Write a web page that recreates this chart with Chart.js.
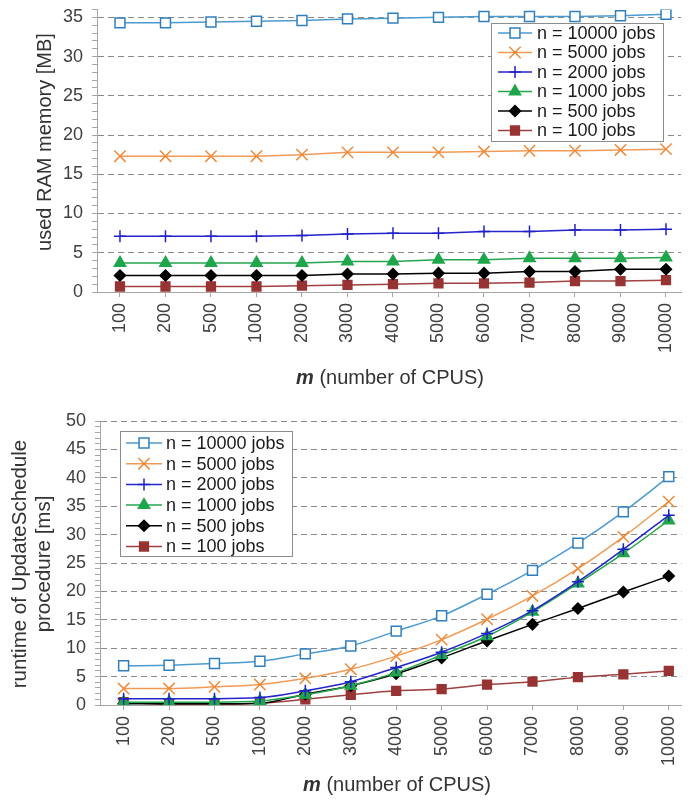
<!doctype html>
<html>
<head>
<meta charset="utf-8">
<script src="https://cdn.jsdelivr.net/npm/chart.js@4/dist/chart.umd.min.js"></script>
<style>
  html, body { margin: 0; padding: 0; background: #fff; }
  .box { position: absolute; left: 0; width: 691px; }
  #top { top: 0; height: 400px; }
  #bot { top: 400px; height: 405px; }
</style>
</head>
<body>
<div class="box" id="top"><canvas id="ram" width="691" height="400"></canvas></div>
<div class="box" id="bot"><canvas id="rt" width="691" height="405"></canvas></div>
<script>
// m (number of CPUs)
const cpus = ['100', '200', '500', '1000', '2000', '3000', '4000', '5000', '6000', '7000', '8000', '9000', '10000'];
const names = ['n = 10000 jobs', 'n = 5000 jobs', 'n = 2000 jobs', 'n = 1000 jobs', 'n = 500 jobs', 'n = 100 jobs'];

// used RAM memory [MB]
const ram10000 = [34.3, 34.3, 34.4, 34.5, 34.6, 34.8, 34.9, 35.0, 35.1, 35.1, 35.1, 35.2, 35.4];
const ram5000  = [17.3, 17.3, 17.3, 17.3, 17.5, 17.8, 17.8, 17.8, 17.9, 18.0, 18.0, 18.1, 18.2];
const ram2000  = [7.1, 7.1, 7.1, 7.1, 7.2, 7.4, 7.5, 7.5, 7.7, 7.7, 7.9, 7.9, 8.0];
const ram1000  = [3.7, 3.7, 3.7, 3.7, 3.7, 3.9, 3.9, 4.1, 4.1, 4.3, 4.3, 4.3, 4.4];
const ram500   = [2.1, 2.1, 2.1, 2.1, 2.1, 2.3, 2.3, 2.4, 2.4, 2.6, 2.6, 2.9, 2.9];
const ram100   = [0.7, 0.7, 0.7, 0.7, 0.8, 0.9, 1.0, 1.1, 1.1, 1.2, 1.4, 1.4, 1.5];

// runtime of UpdateSchedule procedure [ms]
const rt10000 = [6.9, 7.0, 7.3, 7.7, 9.0, 10.4, 13.0, 15.7, 19.5, 23.7, 28.5, 34.0, 40.2];
const rt5000  = [2.9, 2.9, 3.2, 3.6, 4.7, 6.3, 8.6, 11.5, 15.1, 19.2, 24.0, 29.6, 35.8];
const rt2000  = [1.1, 1.1, 1.1, 1.3, 2.5, 4.1, 6.6, 9.3, 12.6, 16.6, 21.7, 27.4, 33.4];
const rt1000  = [0.5, 0.5, 0.5, 0.7, 1.8, 3.4, 5.7, 8.8, 12.1, 16.4, 21.4, 26.7, 32.5];
const rt500   = [0.2, 0.2, 0.2, 0.3, 1.9, 3.4, 5.5, 8.3, 11.3, 14.2, 17.0, 19.9, 22.7];
const rt100   = [0.5, 0.1, 0.1, 0.3, 1.0, 1.8, 2.5, 2.8, 3.6, 4.1, 4.9, 5.4, 6.0];

const FONT = "'Liberation Sans', Arial, sans-serif";
const AXIS = '#a6a6a6';

const looks = [
  { line: '#4b9ad0', mark: '#2f7fbf', fill: '#ffffff', style: 'rect', r: 7 },
  { line: '#f29a55', mark: '#ef8a3a', fill: '#ef8a3a', style: 'crossRot', r: 8 },
  { line: '#2424cc', mark: '#2020c8', fill: '#2020c8', style: 'cross', r: 6 },
  { line: '#22a64c', mark: '#1fa64a', fill: '#1fa64a', style: 'triangle', r: 6.5 },
  { line: '#000000', mark: '#000000', fill: '#000000', style: 'rectRot', r: 5.5 },
  { line: '#a04040', mark: '#983333', fill: '#983333', style: 'rect', r: 6.2 }
];

function makeSets(series, smooth) {
  return series.map((vals, i) => ({
    label: names[i],
    data: vals.map((v, k) => ({ x: k, y: v })),
    borderColor: looks[i].line,
    borderWidth: 1.5,
    pointStyle: looks[i].style,
    pointRadius: looks[i].r,
    pointBorderColor: looks[i].mark,
    pointBackgroundColor: looks[i].fill,
    pointBorderWidth: 1.5,
    cubicInterpolationMode: smooth ? 'monotone' : 'default',
    tension: 0
  }));
}

// axis titles and the boxed legend inside the plot
function decor(cfg) {
  return {
    id: 'decor',
    afterDraw(chart) {
      const ctx = chart.ctx;
      ctx.save();
      ctx.fillStyle = '#333';
      ctx.textAlign = 'center';
      ctx.textBaseline = 'middle';
      ctx.font = cfg.yFont;
      cfg.yTitle.forEach((t, i) => {
        ctx.save();
        ctx.translate(cfg.yTitleX[i], cfg.yTitleY);
        ctx.rotate(-Math.PI / 2);
        ctx.fillText(t, 0, 0);
        ctx.restore();
      });

      // x title: bold italic m + rest
      const a = 'm', b = ' (number of CPUS)';
      const fa = 'italic bold 20px ' + FONT, fb = '20px ' + FONT;
      ctx.font = fa; const wa = ctx.measureText(a).width;
      ctx.font = fb; const wb = ctx.measureText(b).width;
      let x = cfg.xTitleX - (wa + wb) / 2;
      ctx.textAlign = 'left';
      ctx.font = fa; ctx.fillText(a, x, cfg.xTitleY);
      ctx.font = fb; ctx.fillText(b, x + wa, cfg.xTitleY);

      // legend
      const L = cfg.legend;
      ctx.fillStyle = '#fff';
      ctx.fillRect(L.x, L.y, L.w, L.h);
      ctx.strokeStyle = '#8c8c8c';
      ctx.lineWidth = 1;
      ctx.strokeRect(L.x + 0.5, L.y + 0.5, L.w, L.h);
      chart.data.datasets.forEach((ds, i) => {
        const y = L.y0 + i * L.dy;
        ctx.strokeStyle = ds.borderColor;
        ctx.lineWidth = 1.5;
        ctx.beginPath();
        ctx.moveTo(L.x0, y);
        ctx.lineTo(L.x1, y);
        ctx.stroke();
        ctx.fillStyle = ds.pointBackgroundColor;
        ctx.strokeStyle = ds.pointBorderColor;
        ctx.lineWidth = ds.pointBorderWidth;
        Chart.helpers.drawPoint(ctx, {
          pointStyle: ds.pointStyle, radius: ds.pointRadius,
          borderWidth: ds.pointBorderWidth, rotation: 0
        }, (L.x0 + L.x1) / 2, y);
        ctx.fillStyle = '#1a1a1a';
        ctx.font = '18px ' + FONT;
        ctx.textAlign = 'left';
        ctx.textBaseline = 'middle';
        ctx.fillText(ds.label, L.tx, y + 1);
      });
      ctx.restore();
    }
  };
}

function makeOptions(o) {
  return {
    responsive: false,
    animation: false,
    layout: { padding: o.pad },
    plugins: { legend: { display: false }, tooltip: { enabled: false } },
    scales: {
      x: {
        type: 'linear',
        min: o.xMin,
        max: o.xMax,
        afterBuildTicks(s) { s.ticks = cpus.map((_, i) => ({ value: i })); },
        afterFit(s) { s.height = o.xHeight; s.paddingLeft = 0; s.paddingRight = 0; },
        ticks: {
          autoSkip: false, minRotation: 90, maxRotation: 90, padding: 6,
          color: '#404040', font: { family: FONT, size: 18 },
          callback: v => cpus[v]
        },
        grid: { drawOnChartArea: false, tickLength: 5, tickColor: AXIS },
        border: { color: AXIS }
      },
      y: {
        min: 0,
        max: o.yMax,
        afterBuildTicks(s) {
          const t = [];
          for (let v = 0; v <= o.yMax; v++) t.push({ value: v });
          s.ticks = t;
        },
        afterFit(s) { s.width = o.yWidth; if (o.noTopPad) s.paddingTop = 0; },
        ticks: {
          autoSkip: false, padding: 9,
          color: '#404040', font: { family: FONT, size: 18 },
          callback: v => (v % 5 === 0 ? String(v) : '')
        },
        grid: {
          color: c => (c.tick && c.tick.value % 5 === 0 && c.tick.value > 0) ? '#8a8a8a' : 'rgba(0,0,0,0)',
          tickColor: AXIS,
          tickLength: 5,
          lineWidth: 1
        },
        border: { color: AXIS, dash: [6, 4] }
      }
    }
  };
}

new Chart(document.getElementById('ram'), {
  type: 'line',
  data: { datasets: makeSets([ram10000, ram5000, ram2000, ram1000, ram500, ram100], false) },
  options: makeOptions({
    pad: { top: 5, right: 10, left: 0, bottom: 0 },
    xMin: -0.505, xMax: 12.33, xHeight: 108,
    yMax: 36, yWidth: 97, noTopPad: true
  }),
  plugins: [decor({
    yTitle: ['used RAM memory [MB]'], yTitleX: [45], yTitleY: 142, yFont: '20px ' + FONT,
    xTitleX: 390, xTitleY: 378,
    legend: { x: 491, y: 23, w: 172, h: 118, y0: 33, dy: 19.5, x0: 498, x1: 532, tx: 537 }
  })]
});

new Chart(document.getElementById('rt'), {
  type: 'line',
  data: { datasets: makeSets([rt10000, rt5000, rt2000, rt1000, rt500, rt100], true) },
  options: makeOptions({
    pad: { top: 21, right: 1, left: 0, bottom: 0 },
    xMin: -0.52, xMax: 12.28, xHeight: 100,
    yMax: 50, yWidth: 100, noTopPad: false
  }),
  plugins: [decor({
    yTitle: ['runtime of UpdateSchedule', 'procedure [ms]'], yTitleX: [20, 44], yTitleY: 164, yFont: '20.5px ' + FONT,
    xTitleX: 397, xTitleY: 385,
    legend: { x: 120, y: 31, w: 172, h: 125, y0: 43, dy: 20.7, x0: 126, x1: 162, tx: 166 }
  })]
});
</script>
</body>
</html>
